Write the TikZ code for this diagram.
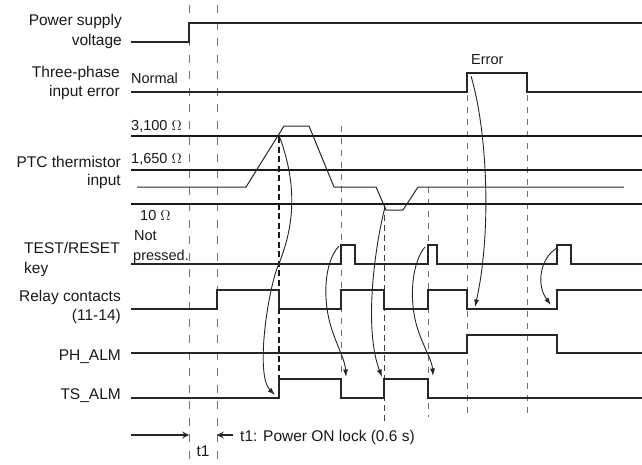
\documentclass[tikz,border=0pt]{standalone}
\usepackage{fontspec}
\setmainfont{Liberation Sans}
\usetikzlibrary{arrows.meta}
\tikzset{
  lbl/.style={inner sep=0pt, font=\fontsize{15.5}{18}\selectfont, text=black!90},
  ilbl/.style={inner sep=0pt, font=\fontsize{14.5}{17}\selectfont, text=black!90},
  sig/.style={line width=1.9pt, black!85, line join=miter},
  thr/.style={line width=2.2pt, black!90},
  thinsig/.style={line width=1pt, black!85},
  dshA/.style={line width=1pt, black!55, dash pattern=on 8pt off 8.5pt},
  dshB/.style={line width=1pt, black!55, dash pattern=on 6pt off 6pt},
  dshK/.style={line width=1.6pt, black!90, dash pattern=on 6pt off 3.5pt},
  dshM/.style={line width=1pt, black!75, dash pattern=on 6pt off 4pt},
  curvarr/.style={line width=0.9pt, black!85, -{Latex[length=7.5pt,width=5pt]}},
  dimarr/.style={line width=1.3pt, black!85, -{Stealth[length=7pt,width=7pt,inset=3pt]}}
}
\begin{document}
\begin{tikzpicture}[x=1pt,y=-1pt]
\useasboundingbox (0,0) rectangle (642,464);
% dashed verticals
\draw[dshA] (189,5) -- (189,464);
\draw[dshA] (217,5) -- (217,464);
\draw[dshK] (279,137) -- (279,397);
\draw[dshB] (341,126) -- (341,398);
\draw[dshM] (384,205) -- (384,423);
\draw[dshB] (428,187) -- (428,417);
\draw[dshB] (467,95) -- (467,417);
\draw[dshB] (527,95) -- (527,417);
% left labels
\node[lbl, anchor=base east] (l1a) at (122,25) {Power supply};
\node[lbl, anchor=base east] (l1b) at (122,45) {voltage};
\node[lbl, anchor=base east] (l2a) at (120,77) {Three-phase};
\node[lbl, anchor=base east] (l2b) at (120,96) {input error};
\node[lbl, anchor=base east] (l3a) at (121,167) {PTC thermistor};
\node[lbl, anchor=base east] (l3b) at (121,185) {input};
\node[lbl, anchor=base west] (l4a) at (24,253) {TEST/RESET};
\node[lbl, anchor=base west] (l4b) at (24,273) {key};
\node[lbl, anchor=base east] (l5a) at (121,301) {Relay contacts};
\node[lbl, anchor=base east] (l5b) at (121,320) {(11-14)};
\node[lbl, anchor=base east] (l6) at (121,360) {PH\_ALM};
\node[lbl, anchor=base east] (l7) at (121,399) {TS\_ALM};
% inner labels
\node[ilbl, anchor=base west] (nrm) at (131,83) {Normal};
\node[ilbl, anchor=base west] (err) at (471,64) {Error};
\node[ilbl, anchor=base west] (r1) at (131,130) {3,100 $\Omega$};
\node[ilbl, anchor=base west] (r2) at (131,163) {1,650 $\Omega$};
\node[ilbl, anchor=base west] (r3) at (140,220) {10 $\Omega$};
\node[ilbl, anchor=base west] (np1) at (134,240) {Not};
\node[ilbl, anchor=base west] (np2) at (133,260) {pressed.};
% signals
\draw[sig] (131,42) -- (189,42) -- (189,23) -- (642,23);
\draw[sig] (131,92) -- (467,92) -- (467,73) -- (527,73) -- (527,92) -- (642,92);
\draw[thr] (131,136) -- (642,136);
\draw[thr] (131,170) -- (642,170);
\draw[thr] (131,204) -- (642,204);
\draw[thinsig] (137,187) -- (246,187) -- (284,126) -- (309,126) -- (334,187) -- (376,187) -- (386,210) -- (403,210) -- (418,187) -- (624,187);
\draw[sig] (131,264) -- (341,264) -- (341,245) -- (355,245) -- (355,264) -- (428,264) -- (428,245) -- (437,245) -- (437,264) -- (557,264) -- (557,245) -- (571,245) -- (571,264) -- (642,264);
\draw[sig] (131,309) -- (217,309) -- (217,290) -- (279,290) -- (279,309) -- (341,309) -- (341,290) -- (384,290) -- (384,309) -- (428,309) -- (428,290) -- (467,290) -- (467,309) -- (557,309) -- (557,290) -- (642,290);
\draw[sig] (131,353) -- (467,353) -- (467,335) -- (557,335) -- (557,353) -- (642,353);
\draw[sig] (131,398) -- (279,398) -- (279,379) -- (341,379) -- (341,398) -- (384,398) -- (384,379) -- (428,379) -- (428,398) -- (642,398);
% cause arrows
\draw[curvarr] (280,138) .. controls (297,185) and (295,225) .. (278,266) .. controls (268,290) and (255,375) .. (275,395);
\draw[curvarr] (339,246) .. controls (324,262) and (322,300) .. (332,330) .. controls (338,348) and (345,360) .. (346,377);
\draw[curvarr] (385,207) .. controls (374,250) and (364,330) .. (382,377);
\draw[curvarr] (425,247) .. controls (412,262) and (408,300) .. (418,330) .. controls (424,348) and (432,360) .. (433,376);
\draw[curvarr] (471,76) .. controls (487,130) and (492,230) .. (475,307);
\draw[curvarr] (557,248) .. controls (540,258) and (536,285) .. (551,305);
% t1
\coordinate (ta) at (131,435);
\coordinate (tb) at (189,435);
\coordinate (tc) at (233,435);
\coordinate (td) at (217,435);
\draw[dimarr] (ta) -- (tb);
\draw[dimarr] (tc) -- (td);
\node[lbl, anchor=base] (t1) at (203,456) {t1};
\node[lbl, anchor=base west] (t1d) at (240,441) {t1: Power ON lock (0.6 s)};
\end{tikzpicture}
\end{document}
